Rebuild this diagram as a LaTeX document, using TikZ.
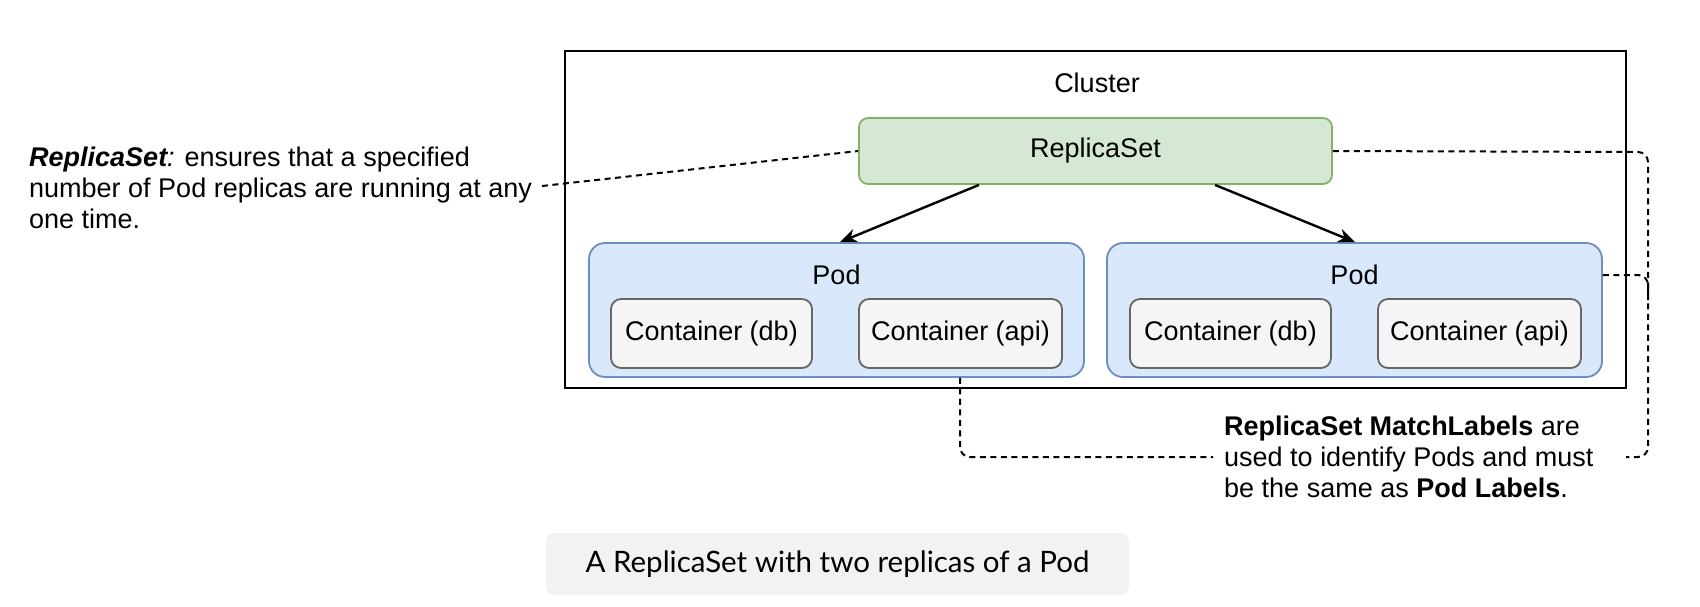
\documentclass[tikz,border=0pt]{standalone}
\usepackage{fontspec}
\setmainfont{Liberation Sans}
\newfontfamily\capfont{Lato}
\usetikzlibrary{arrows.meta}
\definecolor{rsfill}{HTML}{D5E8D4}
\definecolor{rsline}{HTML}{82B366}
\definecolor{podfill}{HTML}{DAE8FC}
\definecolor{podline}{HTML}{6C8EBF}
\definecolor{ctfill}{HTML}{F5F5F5}
\definecolor{ctline}{HTML}{666666}
\definecolor{capfill}{HTML}{F2F2F2}
\tikzset{
  txt/.style={font=\fontsize{27}{31}\selectfont},
  rsbox/.style={draw=rsline, fill=rsfill, line width=1.8pt, rounded corners=9pt, txt},
  podbox/.style={draw=podline, fill=podfill, line width=1.8pt, rounded corners=16pt},
  ctbox/.style={draw=ctline, fill=ctfill, line width=1.8pt, rounded corners=10pt, txt},
  dashline/.style={draw=black, line width=2pt, dash pattern=on 6pt off 4.5pt, rounded corners=10pt},
  arr/.style={draw=black, line width=2.4pt, -{Stealth[length=17pt,width=14pt]}},
}
\begin{document}
\begin{tikzpicture}[x=1pt,y=-1pt]
\useasboundingbox (0,0) rectangle (1700,606);
% cluster
\node[draw=black, line width=2.2pt, minimum width=1061pt, minimum height=337pt, inner sep=0pt] (cl) at (1095.5,219.5) {};
\node[txt] (cllab) at (1097,83) {Cluster};
% replicaset
\node[rsbox, minimum width=473pt, minimum height=66pt, inner sep=0pt] (rs) at (1095.5,151) {ReplicaSet};
% pods
\node[podbox, minimum width=495pt, minimum height=134pt, inner sep=0pt] (podl) at (836.5,310) {};
\node[podbox, minimum width=495pt, minimum height=134pt, inner sep=0pt] (podr) at (1354.5,310) {};
\node[txt] (podllab) at (836.5,275) {Pod};
\node[txt] (podrlab) at (1354.5,275) {Pod};
% containers
\node[ctbox, minimum width=201pt, minimum height=69pt, inner sep=0pt] (c1) at (711.5,333.5) {Container (db)};
\node[ctbox, minimum width=203pt, minimum height=69pt, inner sep=0pt] (c2) at (960.5,333.5) {Container (api)};
\node[ctbox, minimum width=201pt, minimum height=69pt, inner sep=0pt] (c3) at (1230.5,333.5) {Container (db)};
\node[ctbox, minimum width=203pt, minimum height=69pt, inner sep=0pt] (c4) at (1479.5,333.5) {Container (api)};
% arrows
\draw[arr] (rs.south -| 979,0) -- (podl.north -| 840,0);
\draw[arr] (rs.south -| 1215,0) -- (podr.north -| 1355,0);
% left note
\node[txt, align=left, anchor=west, inner sep=0pt] (lt) at (29,188)
  {\textbf{\textit{ReplicaSet}}\kern-1pt\textit{:} ensures that a specified\\
   number of Pod replicas are running at any\\
   one time.};
\coordinate (ltend) at (542,186);
\draw[dashline] (ltend) -- (rs.west);
% right note
\node[txt, align=left, anchor=west, inner sep=0pt] (mt) at (1224,457)
  {\textbf{ReplicaSet MatchLabels} are\\
   used to identify Pods and must\\
   be the same as \textbf{Pod Labels}.};
\coordinate (mtl) at (1213,457);
\coordinate (mtr) at (1626,457);
\draw[dashline] (rs.east) -- (1648,152) -- (1648,457) -- (mtr);
\draw[dashline] (podr.east |- 0,275) -- (1648,275) -- (1648,300);
\draw[dashline] (podl.south -| 960,0) -- (960,457) -- (mtl);
% caption
\node[fill=capfill, rounded corners=8pt, minimum width=583pt, minimum height=62pt, inner sep=0pt,
      font=\capfont\fontsize{29.5}{34}\selectfont] (cap) at (837.5,564) {A ReplicaSet with two replicas of a Pod};
\end{tikzpicture}
\end{document}
